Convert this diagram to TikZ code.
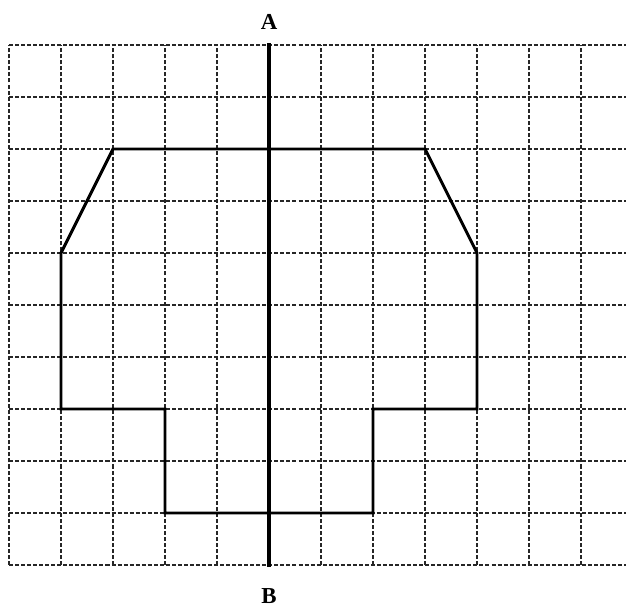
\documentclass[tikz,border=0pt]{standalone}
\usepackage{fontspec}
\setmainfont{Liberation Serif}
\begin{document}
\begin{tikzpicture}[
        gridline/.style={draw=black!85, line width=0.8pt, dash pattern=on 2.2pt off 1.1pt},
        outline/.style={draw=black, line width=1.6pt, line join=miter},
        axisline/.style={draw=black, line width=2.4pt},
        endlabel/.style={font=\fontsize{12.5}{14}\selectfont\bfseries, inner sep=0pt}
    ]

        \useasboundingbox (-0.173,-0.788) rectangle (11.865,10.865);

        % dashed grid
        \foreach \y in {0,...,10}
            \draw[gridline] (0,\y) -- (11.865,\y);
        \foreach \x in {0,...,11}
            \draw[gridline] (\x,0) -- (\x,10);

        % figure
        \draw[outline] (2,8) -- (8,8) -- (9,6) -- (9,3) -- (7,3) -- (7,1)
            -- (3,1) -- (3,3) -- (1,3) -- (1,6) -- cycle;

        % axis of symmetry
        \coordinate (top) at (5,10.04);
        \coordinate (bottom) at (5,-0.04);
        \draw[axisline] (top) -- (bottom);

        \node[endlabel] (A) at (5,10.45) {A};
        \node[endlabel] (B) at (5,-0.6) {B};

    \end{tikzpicture}
\end{document}
